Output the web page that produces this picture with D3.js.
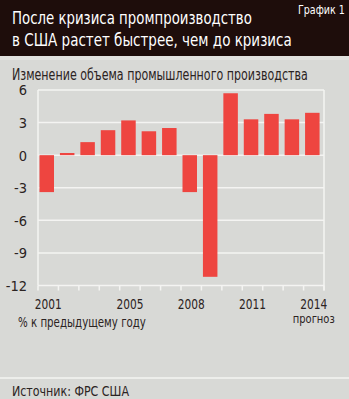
<!DOCTYPE html>
<html><head><meta charset="utf-8">
<script src="https://cdn.jsdelivr.net/npm/d3@7"></script>
<style>
html,body{margin:0;padding:0;background:#d8d9d6;}
svg{display:block;}
</style></head>
<body>
<svg id="c" width="349" height="399"></svg>
<script>
const years = ["2001","2002","2003","2004","2005","2006","2007","2008","2009","2010","2011","2012","2013","2014"];
const values = [-3.4, 0.2, 1.2, 2.3, 3.2, 2.2, 2.5, -3.4, -11.2, 5.7, 3.3, 3.8, 3.3, 3.9];
const yTicks = [6, 3, 0, -3, -6, -9, -12];
const xLabels = ["2001","2005","2008","2011","2014"];

const F = "'Liberation Sans Narrow','DejaVu Sans Condensed','Roboto Condensed',sans-serif";
const svg = d3.select("#c");
svg.append("rect").attr("width",349).attr("height",399).attr("fill","#d8d9d6");
// header
svg.append("rect").attr("x",0).attr("y",0).attr("width",349).attr("height",56).attr("fill","#1e0d0b");
svg.append("rect").attr("x",0).attr("y",56).attr("width",349).attr("height",4).attr("fill","#e2e2df");

// text placed with horizontal scaling to a target width
function txt(s, x, y, size, fill, len, anchor){
  const t = svg.append("text").attr("x",0).attr("y",0).attr("font-family",F)
    .attr("font-size",size).attr("fill",fill).text(s);
  const nat = t.node().getComputedTextLength() || len;
  const sx = len ? len / nat : 1;
  let x0 = x;
  if(anchor === "middle") x0 = x - (len || nat) / 2;
  if(anchor === "end") x0 = x - (len || nat);
  t.attr("transform", `translate(${x0},${y}) scale(${sx},1)`);
  return t;
}
txt("После кризиса промпроизводство", 12, 24, 18.5, "#ffffff", 240);
txt("в США растет быстрее, чем до кризиса", 12, 46, 18.5, "#ffffff", 280);
txt("График 1", 298, 14, 12.5, "#ffffff", 47);
txt("Изменение объема промышленного производства", 12, 80, 15, "#2b2322", 296);

const x = d3.scaleBand().domain(years).range([38, 324]);
const y = d3.scaleLinear().domain([-12, 6]).range([285.5, 90]);

// gridlines
const g = svg.append("g");
g.selectAll("line.grid").data(yTicks).join("line")
  .attr("x1",38).attr("x2",324).attr("y1",d=>y(d)).attr("y2",d=>y(d))
  .attr("stroke","#f4f4f2").attr("stroke-width",1.5);
g.append("line").attr("x1",38).attr("x2",38).attr("y1",y(6)).attr("y2",y(-12)).attr("stroke","#f4f4f2").attr("stroke-width",1.5);
g.append("line").attr("x1",324).attr("x2",324).attr("y1",y(6)).attr("y2",y(-12)+5).attr("stroke","#f4f4f2").attr("stroke-width",1.5);

// bars
svg.append("g").selectAll("rect").data(values).join("rect")
  .attr("x",(d,i)=>x(years[i])+1.5)
  .attr("width",14.5)
  .attr("y",d=>y(Math.max(0,d)))
  .attr("height",d=>Math.abs(y(d)-y(0)))
  .attr("fill","#ee4540");

// x axis ticks
const tickPos = years.map(d=>x(d)).concat([324]);
svg.append("g").selectAll("line").data(tickPos).join("line")
  .attr("x1",d=>d).attr("x2",d=>d).attr("y1",y(-12)).attr("y2",y(-12)+5)
  .attr("stroke","#f4f4f2").attr("stroke-width",1.5);

// x labels
xLabels.forEach(d => txt(d, x(d)+x.bandwidth()/2, 308.5, 14, "#2b2322", 27, "middle"));
txt("прогноз", x("2014")+x.bandwidth()/2, 322.5, 12, "#2b2322", 42, "middle");
txt("% к предыдущему году", 18, 327, 14, "#2b2322", 128);

// y labels
const ya = svg.append("g").attr("transform","translate(38,0)")
  .call(d3.axisLeft(y).tickValues(yTicks).tickSize(0).tickPadding(11).tickFormat(d3.format("d")));
ya.select(".domain").remove();
ya.selectAll("text").attr("font-family",F).attr("font-size",14.5).attr("fill","#2b2322")
  .attr("dy","0.34em").text(d=>d<0?"-"+Math.abs(d):d);

// footer
svg.append("line").attr("x1",0).attr("x2",349).attr("y1",378).attr("y2",378).attr("stroke","#f4f4f2").attr("stroke-width",1.5);
txt("Источник: ФРС США", 12, 396, 14.5, "#2b2322", 117);
</script>
</body></html>
